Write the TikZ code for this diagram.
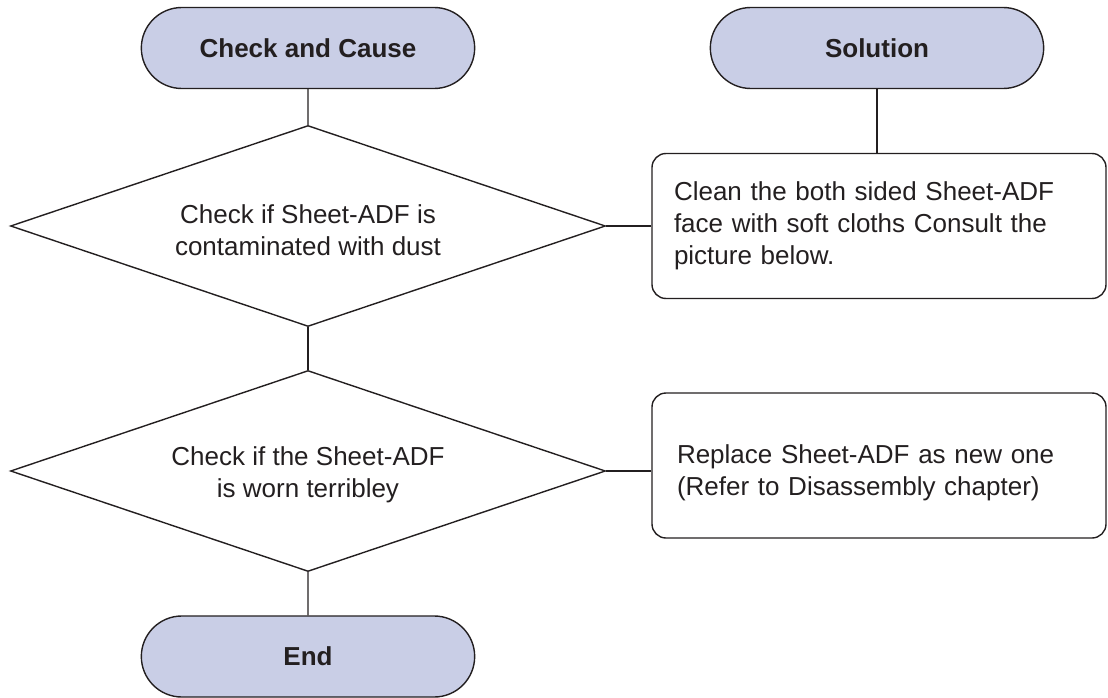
\documentclass[tikz,border=0pt]{standalone}
\usepackage{fontspec}
\setmainfont{Liberation Sans}
\usetikzlibrary{shapes.geometric, shapes.misc, positioning}

\definecolor{termfill}{HTML}{C9CEE6}
\definecolor{inkline}{HTML}{231F20}

\begin{document}
\begin{tikzpicture}[x=1pt, y=-1pt,
    every node/.style={font=\fontsize{26}{32}\selectfont, text=inkline},
    term/.style={draw=inkline, line width=1.4pt, rounded rectangle, fill=termfill,
        minimum width=340pt, minimum height=81pt, font=\fontsize{26}{32}\selectfont\bfseries},
    check/.style={draw=inkline, line width=1.4pt, diamond, aspect=2.96,
        minimum width=595pt, minimum height=201pt, inner sep=0pt, align=center},
    fixbox/.style={draw=inkline, line width=1.4pt, rounded corners=14pt,
        minimum width=454pt, minimum height=145pt, align=left},
    link/.style={draw=inkline, line width=1.4pt}]
    \useasboundingbox (0,0) rectangle (1108,698);

    % Headings
    \node[term] (cause) at (308,48) {Check and Cause};
    \node[term] (solution) at (877,48) {Solution};

    % Checks
    \node[check] (dust) at (308,226) {\rule{0pt}{27pt}Check if Sheet-ADF is\\contaminated with dust};
    \node[check] (worn) at (308,471) {\rule{0pt}{27pt}Check if the Sheet-ADF\\is worn terribley};

    % Fixes
    \node[fixbox, text width=410pt] (clean) at (879,226)
        {Clean the both sided Sheet-ADF\\face with soft cloths Consult the\\picture below.};
    \node[fixbox, text width=404pt] (replace) at (879,465.5)
        {\rule{0pt}{33pt}Replace Sheet-ADF as new one\\(Refer to Disassembly chapter)};

    % End
    \node[term] (stop) at (308,656.5) {End};

    % Links
    \draw[link] (cause) -- (dust);
    \draw[link] (dust) -- (worn);
    \draw[link] (worn) -- (stop);
    \draw[link] (solution.south) -- (solution.south |- clean.north);
    \draw[link] (dust.east) -- (dust.east -| clean.west);
    \draw[link] (worn.east) -- (worn.east -| replace.west);
\end{tikzpicture}
\end{document}
